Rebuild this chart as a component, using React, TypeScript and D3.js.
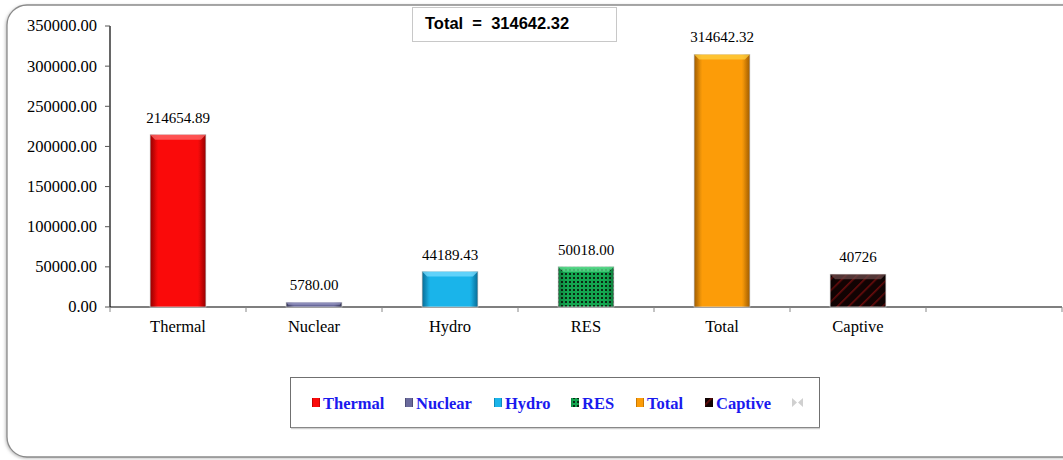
import React from "react";
import * as d3 from "d3";

const categories = ["Thermal", "Nuclear", "Hydro", "RES", "Total", "Captive", ""];
const values = [214654.89, 5780.0, 44189.43, 50018.0, 314642.32, 40726, null];
const valueLabels = ["214654.89", "5780.00", "44189.43", "50018.00", "314642.32", "40726", ""];
const yTicks = [0, 50000, 100000, 150000, 200000, 250000, 300000, 350000];
const legendItems = ["Thermal", "Nuclear", "Hydro", "RES", "Total", "Captive"];
const totalText = "Total  =  314642.32";

const colors: Record<string, { base: string; light: string; dark: string; fill: string }> = {
  Thermal: { base: "#fa0a0a", light: "#ff6a6a", dark: "#c80000", fill: "url(#gThermal)" },
  Nuclear: { base: "#6a6a9c", light: "#9a9ac4", dark: "#4a4a78", fill: "url(#gNuclear)" },
  Hydro: { base: "#1ab4ea", light: "#7adcff", dark: "#0a90c8", fill: "url(#gHydro)" },
  RES: { base: "#11a34f", light: "#5fe090", dark: "#087a38", fill: "url(#pRES)" },
  Total: { base: "#fc9c08", light: "#ffd040", dark: "#d67c00", fill: "url(#gTotal)" },
  Captive: { base: "#1a0606", light: "#6a4a4a", dark: "#000000", fill: "url(#pCaptive)" },
};

const serif = "'Liberation Serif', 'DejaVu Serif', serif";
const sans = "'Liberation Sans', Arial, sans-serif";

export default function App() {
  const W = 1063, H = 460;
  const left = 110, right = 1062, top = 26, bottom = 307;
  const keys = categories.map((c, i) => c || "_" + i);
  const x = d3.scaleBand<string>().domain(keys).range([left, right]).paddingInner(0.59).paddingOuter(0.295);
  const xb = d3.scaleBand<string>().domain(keys).range([left, right]).padding(0);
  const y = d3.scaleLinear().domain([0, 350000]).range([bottom, top]);

  const grad = (id: string, c: { base: string; light: string; dark: string }) => (
    <linearGradient id={id} x1="0" x2="1" y1="0" y2="0">
      <stop offset="0" stopColor={c.dark} />
      <stop offset="0.12" stopColor={c.base} />
      <stop offset="0.88" stopColor={c.base} />
      <stop offset="1" stopColor={c.dark} />
    </linearGradient>
  );

  const legendX = [312, 405, 494, 571, 636, 705];

  return (
    <svg width={W} height={H} style={{ position: "absolute", left: 0, top: 0 }}>
      <defs>
        {grad("gThermal", colors.Thermal)}
        {grad("gNuclear", colors.Nuclear)}
        {grad("gHydro", colors.Hydro)}
        {grad("gTotal", colors.Total)}
        <pattern id="pRES" width="4" height="4" patternUnits="userSpaceOnUse">
          <rect width="4" height="4" fill="#14a650" />
          <rect x="1" y="1" width="2" height="2" fill="#0a2a14" />
        </pattern>
        <pattern id="pCaptive" width="8" height="8" patternUnits="userSpaceOnUse" patternTransform="rotate(45)">
          <rect width="8" height="8" fill="#120303" />
          <rect width="1.6" height="8" fill="#6a0c0c" />
        </pattern>
        <linearGradient id="shade" x1="0" x2="1" y1="0" y2="0">
          <stop offset="0" stopColor="#000" stopOpacity="0.25" />
          <stop offset="0.15" stopColor="#000" stopOpacity="0" />
          <stop offset="0.85" stopColor="#000" stopOpacity="0" />
          <stop offset="1" stopColor="#000" stopOpacity="0.25" />
        </linearGradient>
        <filter id="shadow" x="-5%" y="-5%" width="110%" height="110%">
          <feDropShadow dx="-1" dy="1" stdDeviation="1.5" floodColor="#999" floodOpacity="0.6" />
        </filter>
      </defs>
      <rect x={0} y={0} width={W} height={H} fill="#fff" />
      <rect x={7} y={5} width={1080} height={452} rx={20} ry={20} fill="#fff" stroke="#8a8a8a" strokeWidth={1.3} filter="url(#shadow)" />

      {/* y axis */}
      <line x1={left} x2={left} y1={top} y2={bottom} stroke="#000" strokeWidth={1.2} />
      {yTicks.map((t) => (
        <g key={t}>
          <line x1={left - 5} x2={left} y1={y(t)} y2={y(t)} stroke="#555" />
          <text x={left - 13} y={y(t)} dy="0.33em" textAnchor="end" fontFamily={serif} fontSize={16.5} fill="#000">
            {t.toFixed(2)}
          </text>
        </g>
      ))}
      {/* x axis */}
      <line x1={left} x2={right} y1={bottom} y2={bottom} stroke="#000" strokeWidth={1.2} />
      {keys.map((k) => (
        <line key={"t" + k} x1={xb(k)!} x2={xb(k)!} y1={bottom} y2={bottom + 5} stroke="#888" />
      ))}
      <line x1={right} x2={right} y1={bottom} y2={bottom + 5} stroke="#888" />

      {/* bars */}
      {keys.map((k, i) => {
        const v = values[i];
        if (v == null) return null;
        const c = colors[categories[i]];
        const bx = x(k)!, bw = x.bandwidth();
        const by = y(v), bh = bottom - by;
        const bev = Math.min(5, bh / 2);
        return (
          <g key={"b" + k}>
            <rect x={bx} y={by} width={bw} height={bh} fill={c.fill} stroke="#d8d8d8" strokeWidth={0.8} />
            <rect x={bx} y={by} width={bw} height={bh} fill="url(#shade)" />
            <path
              d={`M${bx},${by} L${bx + bw},${by} L${bx + bw - bev},${by + bev} L${bx + bev},${by + bev} Z`}
              fill={c.light}
              opacity={0.75}
            />
            <text x={bx + bw / 2} y={by - 12} textAnchor="middle" fontFamily={serif} fontSize={15} fill="#000">
              {valueLabels[i]}
            </text>
          </g>
        );
      })}
      {keys.map((k, i) => (
        <text key={"l" + k} x={xb(k)! + xb.bandwidth() / 2} y={332} textAnchor="middle" fontFamily={serif} fontSize={16.5} fill="#000">
          {categories[i]}
        </text>
      ))}

      {/* total box */}
      <rect x={412.5} y={7.5} width={204} height={34} fill="#fff" stroke="#c8c8c8" strokeWidth={1} />
      <text x={425} y={29} fontFamily={sans} fontWeight="bold" fontSize={16.5} fill="#000" style={{ whiteSpace: "pre" }}>
        {totalText}
      </text>

      {/* legend */}
      <rect x={290.5} y={377.5} width={529} height={50} fill="#fff" stroke="#707070" strokeWidth={1} />
      <line x1={291} x2={820} y1={428.5} y2={428.5} stroke="#d0d0d0" strokeWidth={1.5} />
      {legendItems.map((name, i) => {
        const c = colors[name];
        const lx = legendX[i];
        return (
          <g key={"lg" + name}>
            <rect x={lx} y={398} width={8} height={9} fill={c.fill} />
            <rect x={lx} y={398} width={8} height={9} fill="url(#shade)" />
            <text x={lx + 11} y={409} fontFamily={serif} fontWeight="bold" fontSize={16.5} fill="#1a1aee">
              {name}
            </text>
          </g>
        );
      })}
      <path d="M792,398 L797,402.5 L792,407 Z M803,398 L798,402.5 L803,407 Z" fill="#d0d0d0" />
    </svg>
  );
}
